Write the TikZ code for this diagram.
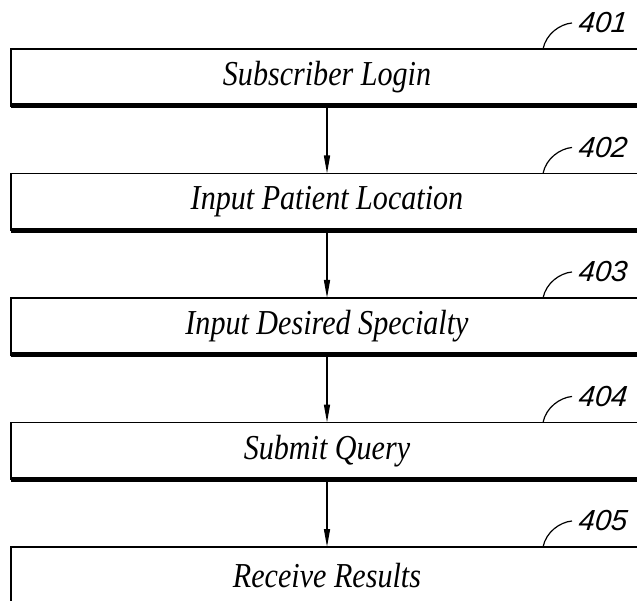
\documentclass[tikz,border=0pt]{standalone}
\usepackage{fontspec}
\setmainfont{Liberation Serif}
\newfontfamily\boxfont[FakeStretch=0.86]{Liberation Serif}
\newfontfamily\numfont[FakeSlant=0.1]{Liberation Sans}
\usetikzlibrary{arrows.meta,positioning}

\begin{document}
\begin{tikzpicture}[>={Triangle[width=6pt,length=18pt]},node distance=67.5pt]
  \tikzstyle{box}=[draw,line width=1.2pt,minimum width=632pt,minimum height=57pt,outer sep=0pt,
    font=\boxfont\itshape\fontsize{35}{40}\selectfont]
  \tikzstyle{num}=[anchor=west,inner sep=0pt,font=\numfont\itshape\fontsize{29}{32}\selectfont]
  \tikzstyle{leader}=[line width=1.2pt]
  \useasboundingbox (0,0) rectangle (637pt,-601pt);
  \node[box] (login) at (327pt,-77.5pt) {Subscriber Login};
  \node[box,below=of login] (location) {Input Patient Location};
  \node[box,below=of location] (specialty) {Input Desired Specialty};
  \node[box,below=of specialty] (query) {Submit Query};
  \node[box,below=of query] (results) {Receive Results};
  % thick bottom edges
  \draw[line width=5pt] (login.south west) -- (login.south east);
  \draw[line width=5pt] (location.south west) -- (location.south east);
  \draw[line width=5pt] (specialty.south west) -- (specialty.south east);
  \draw[line width=5pt] (query.south west) -- (query.south east);
  \draw[line width=5pt] (results.south west) -- (results.south east);
  % flow
  \draw[line width=1.5pt,->] (login) -- (location);
  \draw[line width=1.5pt,->] (location) -- (specialty);
  \draw[line width=1.5pt,->] (specialty) -- (query);
  \draw[line width=1.5pt,->] (query) -- (results);
  % reference numerals
  \node[num] (n401) at ([xshift=251pt,yshift=26pt]login.north) {401};
  \node[num] (n402) at ([xshift=251pt,yshift=26pt]location.north) {402};
  \node[num] (n403) at ([xshift=251pt,yshift=26pt]specialty.north) {403};
  \node[num] (n404) at ([xshift=251pt,yshift=26pt]query.north) {404};
  \node[num] (n405) at ([xshift=251pt,yshift=26pt]results.north) {405};
  \draw[leader] ([xshift=216pt]login.north) .. controls +(3pt,15pt) and +(-12pt,-1pt) .. ([xshift=-6pt]n401.west);
  \draw[leader] ([xshift=216pt]location.north) .. controls +(3pt,15pt) and +(-12pt,-1pt) .. ([xshift=-6pt]n402.west);
  \draw[leader] ([xshift=216pt]specialty.north) .. controls +(3pt,15pt) and +(-12pt,-1pt) .. ([xshift=-6pt]n403.west);
  \draw[leader] ([xshift=216pt]query.north) .. controls +(3pt,15pt) and +(-12pt,-1pt) .. ([xshift=-6pt]n404.west);
  \draw[leader] ([xshift=216pt]results.north) .. controls +(3pt,15pt) and +(-12pt,-1pt) .. ([xshift=-6pt]n405.west);
\end{tikzpicture}
\end{document}
